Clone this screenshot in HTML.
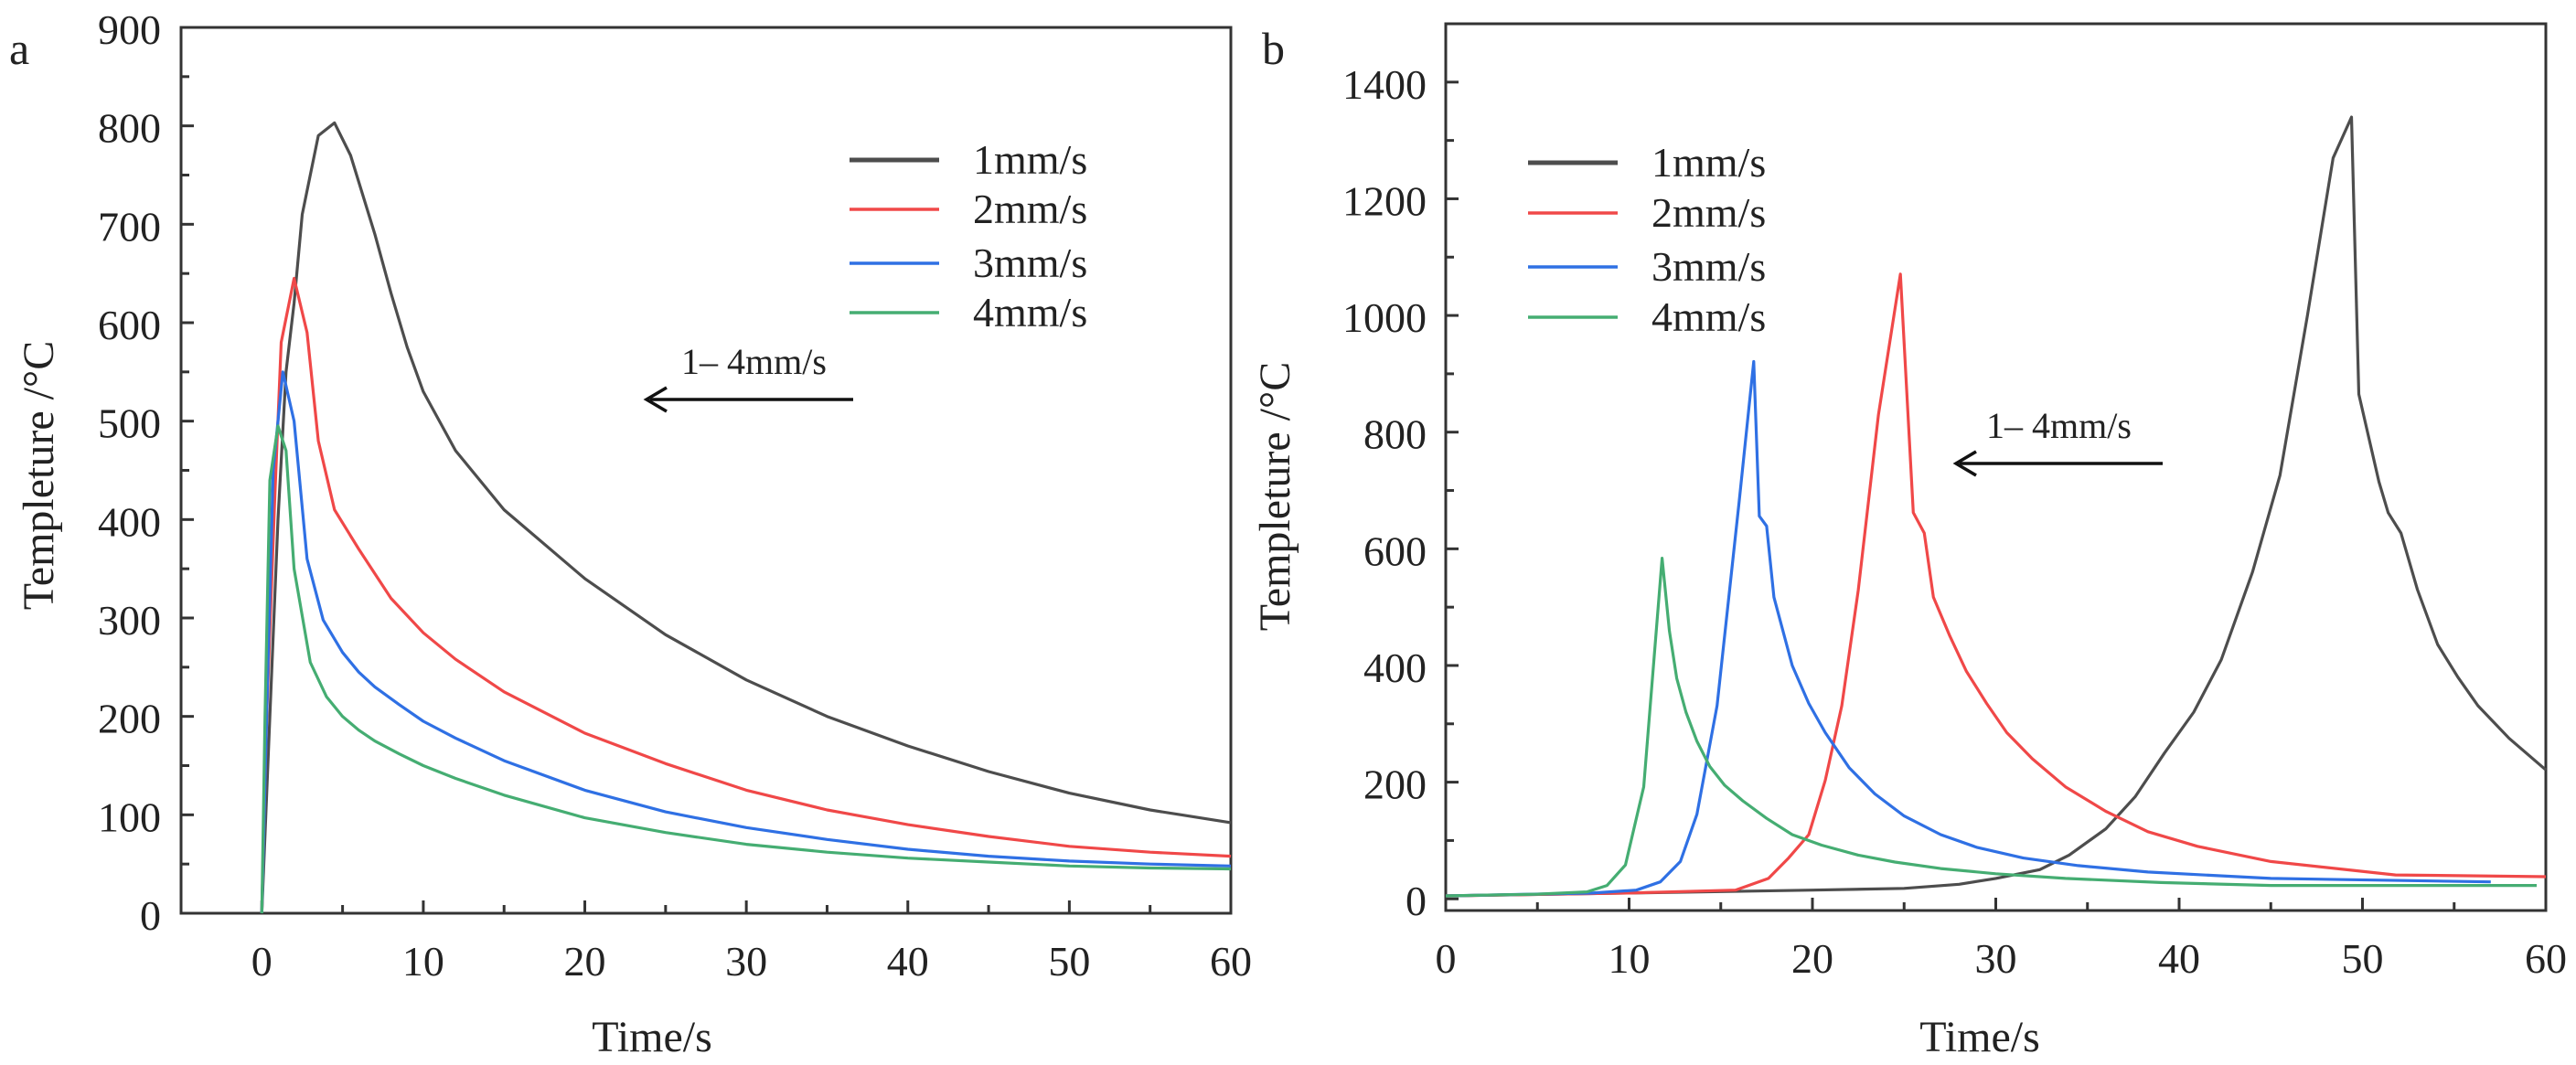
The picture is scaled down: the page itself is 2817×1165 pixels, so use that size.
<!DOCTYPE html>
<html><head><meta charset="utf-8"><style>
body{margin:0;background:#fff}
svg{display:block}
text{font-family:"Liberation Serif",serif;fill:#222}
</style></head><body>
<svg id="chart" width="2817" height="1165" viewBox="0 0 2817 1165"></svg>
<script>
const seriesNames=["1mm/s","2mm/s","3mm/s","4mm/s"];
const colors=["#4d4d4d","#f04848","#2f70e4","#45ad72"];
const aXTicks=[0,10,20,30,40,50,60];
const aYTicks=[0,100,200,300,400,500,600,700,800,900];
const bXTicks=[0,10,20,30,40,50,60];
const bYTicks=[0,200,400,600,800,1000,1200,1400];
const aT1=[0,0.5,1,1.5,2,2.5,3.5,4.5,5.5,7,8,9,10,12,15,20,25,30,35,40,45,50,55,60];
const aV1=[0,200,400,550,620,710,790,803,770,690,630,575,530,470,410,340,283,237,200,170,144,122,105,92];
const aT2=[0,0.3,0.8,1.2,2,2.8,3.5,4.5,6,7,8,10,12,15,20,25,30,35,40,45,50,55,60];
const aV2=[0,200,420,580,645,590,480,410,370,345,320,285,258,225,183,152,125,105,90,78,68,62,58];
const aT3=[0,0.3,0.7,1.3,2,2.8,3.8,5,6,7,8.5,10,12,15,20,25,30,35,40,45,50,55,60];
const aV3=[0,200,450,550,500,360,298,265,245,230,212,195,178,155,125,103,87,75,65,58,53,50,48];
const aT4=[0,0.2,0.5,1,1.5,2,3,4,5,6,7,8.5,10,12,15,20,25,30,35,40,45,50,55,60];
const aV4=[0,200,440,495,470,350,255,220,200,186,175,162,150,137,120,97,82,70,62,56,52,48,46,45];
const bT1=[0,10,20,25,28,30,32.4,34,36,37.6,39.2,40.8,42.3,44,45.5,47,48.4,49.4,49.8,50.9,51.4,52.1,53,54.1,55.2,56.3,58,60];
const bV1=[5,10,15,18,25,35,50,75,120,175,250,320,410,560,726,1000,1270,1340,865,715,662,627,530,436,380,331,275,221];
const bT2=[0,10,15.8,17.6,18.7,19.8,20.7,21.6,22.5,23.6,24.8,25.5,26.1,26.6,27.5,28.4,29.5,30.6,32,33.8,36,38.3,41,45,51.8,60];
const bV2=[5,10,15,35,70,110,203,331,529,830,1071,662,627,517,450,390,335,285,240,192,150,115,90,64,41,38];
const bT3=[0,8,10.4,11.7,12.8,13.7,14.8,16,16.8,17.1,17.5,17.9,18.9,19.8,20.7,22,23.4,25,27,29,31.5,34.5,38.3,45,57];
const bV3=[5,10,15,29,64,145,331,680,921,656,639,517,400,335,285,225,180,142,110,88,70,57,46,35,29];
const bT4=[0,5,7.7,8.8,9.8,10.8,11.8,12.2,12.6,13.1,13.7,14.4,15.2,16.2,17.5,18.9,20.5,22.5,24.5,27,30,33.8,39,45,59.5];
const bV4=[5,8,12,23,58,192,584,459,378,320,270,227,195,168,138,110,92,75,63,52,43,35,28,23,23];

const NS="http://www.w3.org/2000/svg";
const svg=document.getElementById('chart');
function mk(tag,attrs,parent,txt){const e=document.createElementNS(NS,tag);for(const k in attrs)e.setAttribute(k,attrs[k]);if(txt!==undefined)e.textContent=txt;(parent||svg).appendChild(e);return e;}

function panel(cfg){
  const g=mk('g',{});
  
  
  const X=v=>cfg.L+(v-cfg.x0)/(cfg.x1-cfg.x0)*(cfg.R-cfg.L);
  const Y=v=>cfg.B-(v-cfg.y0)/(cfg.y1-cfg.y0)*(cfg.B-cfg.T);
  const frame=mk('rect',{x:cfg.L,y:cfg.T,width:cfg.R-cfg.L,height:cfg.B-cfg.T,fill:'none',stroke:'#333','stroke-width':3},g);
  
  
  for(let v=cfg.xMinor0;v<=cfg.x1;v+=cfg.xMinor){
    const major=cfg.xTicks.includes(v);
    mk('line',{x1:X(v),x2:X(v),y1:cfg.B,y2:cfg.B-(major?14:9),stroke:'#333','stroke-width':3},g);
  }
  cfg.xTicks.forEach(v=>{
    const t=mk('text',{x:X(v),y:cfg.B+68,'text-anchor':'middle','font-size':46},g,String(v));
    
    
  });
  for(let v=cfg.y0c;v<=cfg.y1;v+=cfg.yMinor){
    const major=cfg.yTicks.includes(v);
    mk('line',{x1:cfg.L,x2:cfg.L+(major?14:9),y1:Y(v),y2:Y(v),stroke:'#333','stroke-width':3},g);
  }
  cfg.yTicks.forEach(v=>{
    const t=mk('text',{x:cfg.yLabX,y:Y(v)+18,'text-anchor':'end','font-size':46},g,String(v));
    
    
  });
  cfg.series.forEach((s,i)=>{
    const pts=s[0].map((t,j)=>X(t).toFixed(1)+','+Y(s[1][j]).toFixed(1)).join(' ');
    const p=mk('polyline',{points:pts,fill:'none',stroke:colors[i],'stroke-width':3.2,'stroke-linejoin':'round'},g);
    
    
  });
  cfg.legY.forEach((ly,i)=>{
    const le=mk('g',{},g);
    
    
    mk('line',{x1:cfg.legX,x2:cfg.legX+98,y1:ly,y2:ly,stroke:colors[i],'stroke-width':i==0?5:3.5},le);
    mk('text',{x:cfg.legX+135,y:ly+15,'font-size':46},le,seriesNames[i]);
  });
  const ag=mk('g',{},g);
  
  
  mk('line',{x1:cfg.arr[0],x2:cfg.arr[1]+4,y1:cfg.arr[2],y2:cfg.arr[2],stroke:'#111','stroke-width':3.5},ag);
  mk('polyline',{points:`${cfg.arr[1]+22},${cfg.arr[2]-13} ${cfg.arr[1]},${cfg.arr[2]} ${cfg.arr[1]+22},${cfg.arr[2]+13}`,fill:'none',stroke:'#111','stroke-width':3.5},ag);
  mk('text',{x:cfg.arr[3],y:cfg.arr[2]-28,'font-size':40},ag,'1– 4mm/s');
  const xt=mk('text',{x:cfg.xTitleX,y:1150,'text-anchor':'middle','font-size':48},g,'Time/s');
  
  
  const yt=mk('text',{x:0,y:0,'text-anchor':'middle','font-size':48,transform:`translate(${cfg.yTitle[0]},${cfg.yTitle[1]}) rotate(-90)`},g,'Templeture /°C');
  
  
  const pl=mk('text',{x:cfg.panelLab[0],y:70,'font-size':50},g,cfg.panelLab[1]);
  
  
}
panel({name:'panel-a',L:198,R:1346,T:30,B:999,x0:-5,x1:60,y0:0,y1:900,y0c:0,xTicks:aXTicks,yTicks:aYTicks,xMinor:5,xMinor0:0,yMinor:50,yLabX:176,
 series:[[aT1,aV1],[aT2,aV2],[aT3,aV3],[aT4,aV4]],legX:929,legY:[175,229,288,342],arr:[933,707,437,745],xTitleX:713,yTitle:[58,520],panelLab:[10,'a']});
panel({name:'panel-b',L:1581,R:2784,T:26,B:996,x0:0,x1:60,y0:-20,y1:1500,y0c:0,xTicks:bXTicks,yTicks:bYTicks,xMinor:5,xMinor0:0,yMinor:100,yLabX:1560,
 series:[[bT1,bV1],[bT2,bV2],[bT3,bV3],[bT4,bV4]],legX:1671,legY:[178,233,292,347],arr:[2365,2139,507,2172],xTitleX:2165,yTitle:[1410,543],panelLab:[1380,'b']});
</script>
</body></html>
